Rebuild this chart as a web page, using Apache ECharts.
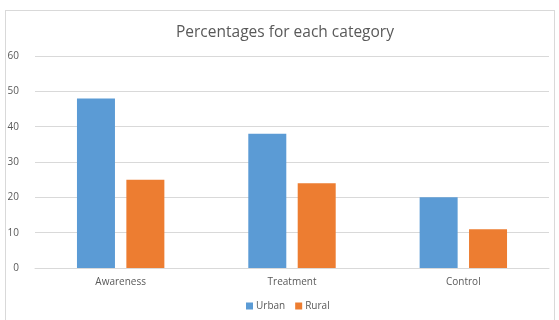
<!DOCTYPE html>
<html>
<head>
<meta charset="utf-8">
<script src="https://cdn.jsdelivr.net/npm/echarts@6/dist/echarts.min.js"></script>
<style>
    html,body{margin:0;padding:0;background:#fff;}
    #wrap{position:absolute;left:5px;top:10px;width:550px;height:320px;border:1px solid #d9d9d9;box-sizing:border-box;}
    #chart{position:absolute;left:0;top:0;width:559px;height:320px;}
</style>
</head>
<body>
<div id="wrap"></div>
<div id="chart"></div>
<script>
    // data
    var categories = ['Awareness', 'Treatment', 'Control'];
    var urbanValues = [48, 38, 20];
    var ruralValues = [25, 24, 11];
    var seriesNames = ['Urban', 'Rural'];

    var myChart = echarts.init(document.getElementById('chart'));

    var option = {
        color: ['#5b9bd5', '#ed7d31'],
        textStyle: {fontFamily: 'Open Sans'},
        title: {
            text: 'Percentages for each category',
            left: 171,
            top: 20,
            textStyle: {
                fontSize: 15.5,
                fontWeight: 'normal',
                color: '#595959',
                fontFamily: 'Open Sans'
            }
        },
        legend: {
            bottom: 4,
            left: 241,
            itemWidth: 7,
            itemHeight: 7,
            itemGap: 10,
            icon: 'rect',
            textStyle: {fontSize: 10, color: '#595959', padding: [0, 0, 0, -2]},
            data: seriesNames
        },
        grid: {
            left: 35,
            right: 10,
            top: 56,
            bottom: 52
        },
        xAxis: {
            type: 'category',
            data: categories,
            axisTick: {show: false},
            axisLine: {lineStyle: {color: '#d9d9d9'}},
            axisLabel: {color: '#595959', fontSize: 10, margin: 9}
        },
        yAxis: {
            type: 'value',
            min: 0,
            max: 60,
            interval: 10,
            axisLine: {show: false},
            axisTick: {show: false},
            axisLabel: {color: '#595959', fontSize: 10, margin: 16},
            splitLine: {lineStyle: {color: '#d9d9d9'}}
        },
        series: [
            {
                name: seriesNames[0],
                type: 'bar',
                data: urbanValues,
                barWidth: 38,
                barGap: '30%'
            },
            {
                name: seriesNames[1],
                type: 'bar',
                data: ruralValues,
                barWidth: 38,
                barGap: '30%'
            }
        ]
    };
    myChart.setOption(option, true);
</script>
</body>
</html>
